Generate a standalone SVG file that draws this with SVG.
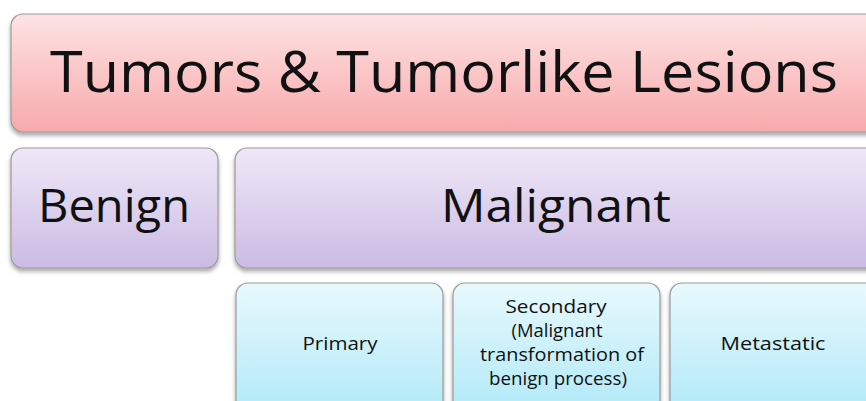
<svg xmlns="http://www.w3.org/2000/svg" width="866" height="401" viewBox="0 0 866 401">
  <defs>
    <linearGradient id="gPink" x1="0" y1="0" x2="0" y2="1">
      <stop offset="0" stop-color="#fde3e4"/>
      <stop offset="1" stop-color="#f8a9ab"/>
    </linearGradient>
    <linearGradient id="gPurple" x1="0" y1="0" x2="0" y2="1">
      <stop offset="0" stop-color="#efe8f7"/>
      <stop offset="1" stop-color="#cbbbe4"/>
    </linearGradient>
    <linearGradient id="gBlue" x1="0" y1="0" x2="0" y2="1">
      <stop offset="0" stop-color="#e8f9fd"/>
      <stop offset="1" stop-color="#ade8f7"/>
    </linearGradient>
    <filter id="shadow" x="-5%" y="-10%" width="110%" height="130%">
      <feGaussianBlur in="SourceAlpha" stdDeviation="2"/>
      <feOffset dx="0" dy="3" result="b"/>
      <feComponentTransfer><feFuncA type="linear" slope="0.35"/></feComponentTransfer>
      <feMerge><feMergeNode/><feMergeNode in="SourceGraphic"/></feMerge>
    </filter>
  </defs>
  <style>
    .box { stroke: #9a9a9a; stroke-width: 1.2; filter: url(#shadow); }
    .pink { fill: url(#gPink); }
    .purple { fill: url(#gPurple); }
    .blue { fill: url(#gBlue); }
    text { font-family: "Open Sans", "Liberation Sans", sans-serif; fill: #111; text-anchor: middle; }
    .big { font-size: 56px; }
    .mid { font-size: 46px; }
    .small { font-size: 18px; }
  </style>
  <rect width="866" height="401" fill="#ffffff"/>

  <g id="tumors">
    <rect class="box pink" x="11" y="14" width="880" height="118" rx="12"/>
    <text class="big" x="444" y="92" textLength="788" lengthAdjust="spacingAndGlyphs">Tumors &amp; Tumorlike Lesions</text>
  </g>

  <g id="benign">
    <rect class="box purple" x="11" y="148" width="207" height="120" rx="12"/>
    <text class="mid" x="114" y="222" textLength="152" lengthAdjust="spacingAndGlyphs">Benign</text>
  </g>

  <g id="malignant">
    <rect class="box purple" x="235" y="148" width="660" height="120" rx="12"/>
    <text class="mid" x="556" y="222" textLength="230" lengthAdjust="spacingAndGlyphs">Malignant</text>
  </g>

  <g id="primary">
    <rect class="box blue" x="236" y="283" width="207" height="140" rx="12"/>
    <text class="small" x="340" y="350" textLength="75" lengthAdjust="spacingAndGlyphs">Primary</text>
  </g>

  <g id="secondary">
    <rect class="box blue" x="453" y="283" width="207" height="140" rx="12"/>
    <text class="small" x="556" y="313" textLength="101" lengthAdjust="spacingAndGlyphs">Secondary</text>
    <text class="small" x="557" y="337" textLength="91" lengthAdjust="spacingAndGlyphs">(Malignant</text>
    <text class="small" x="562" y="361" textLength="164" lengthAdjust="spacingAndGlyphs">transformation of</text>
    <text class="small" x="558" y="385" textLength="138" lengthAdjust="spacingAndGlyphs">benign process)</text>
  </g>

  <g id="metastatic">
    <rect class="box blue" x="670" y="283" width="230" height="140" rx="12"/>
    <text class="small" x="773" y="350" textLength="105" lengthAdjust="spacingAndGlyphs">Metastatic</text>
  </g>

  <g id="connectors"/>
</svg>
